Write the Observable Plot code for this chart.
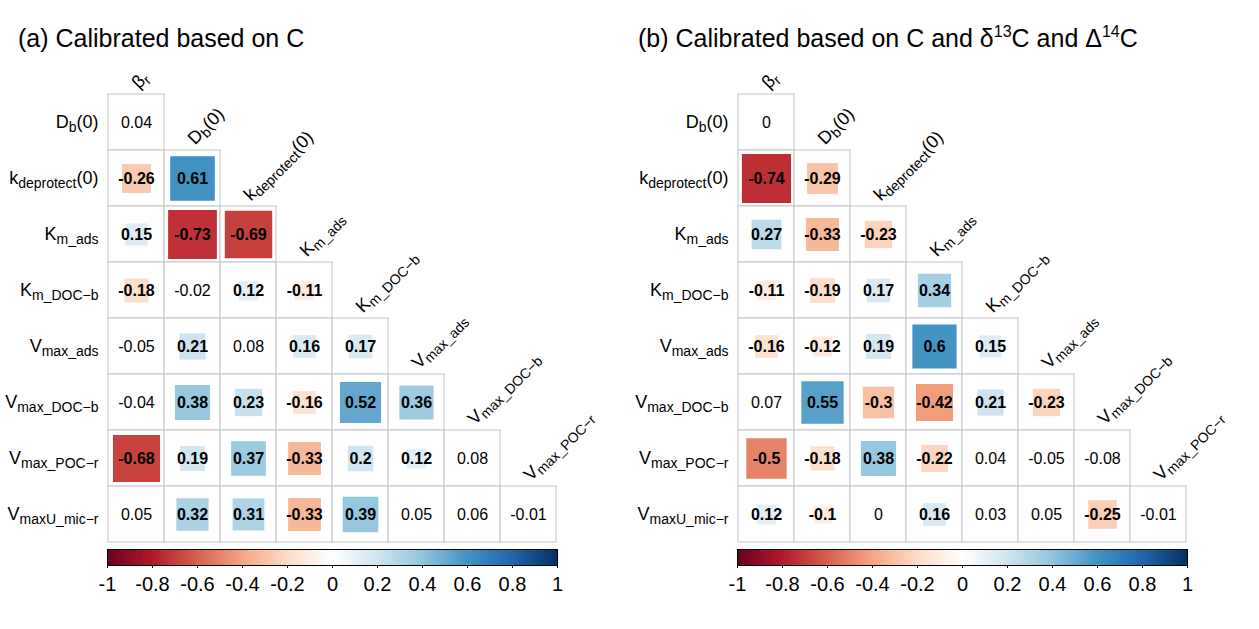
<!DOCTYPE html>
<html><head><meta charset="utf-8">
<script src="https://cdn.jsdelivr.net/npm/d3@7"></script>
<script src="https://cdn.jsdelivr.net/npm/@observablehq/plot@0.6"></script>
<style>
body{margin:0;background:#fff;}
#root{position:relative;width:1259px;height:629px;overflow:hidden;font-family:"Liberation Sans",Arial,sans-serif;}
.title{position:absolute;top:26px;font-size:25px;line-height:24px;white-space:nowrap;color:#000;}
.title sup{font-size:16px;line-height:0;vertical-align:baseline;position:relative;top:-10px;}
.panel{position:absolute;}
</style></head><body><div id="root"></div>
<script>
// Variable labels ({...} marks a subscript)
const rowLabels = ["D{b}(0)", "k{deprotect}(0)", "K{m_ads}", "K{m_DOC−b}", "V{max_ads}", "V{max_DOC−b}", "V{max_POC−r}", "V{maxU_mic−r}"];
const colLabels = ["β{r}", "D{b}(0)", "k{deprotect}(0)", "K{m_ads}", "K{m_DOC−b}", "V{max_ads}", "V{max_DOC−b}", "V{max_POC−r}"];

// Panel (a): Calibrated based on C (lower triangle, row by row)
const valuesA = [
  [0.04],
  [-0.26, 0.61],
  [0.15, -0.73, -0.69],
  [-0.18, -0.02, 0.12, -0.11],
  [-0.05, 0.21, 0.08, 0.16, 0.17],
  [-0.04, 0.38, 0.23, -0.16, 0.52, 0.36],
  [-0.68, 0.19, 0.37, -0.33, 0.2, 0.12, 0.08],
  [0.05, 0.32, 0.31, -0.33, 0.39, 0.05, 0.06, -0.01]
];
// Panel (b): Calibrated based on C, d13C and D14C
const valuesB = [
  [0],
  [-0.74, -0.29],
  [0.27, -0.33, -0.23],
  [-0.11, -0.19, 0.17, 0.34],
  [-0.16, -0.12, 0.19, 0.6, 0.15],
  [0.07, 0.55, -0.3, -0.42, 0.21, -0.23],
  [-0.5, -0.18, 0.38, -0.22, 0.04, -0.05, -0.08],
  [0.12, -0.1, 0, 0.16, 0.03, 0.05, -0.25, -0.01]
];
const titleA = "(a) Calibrated based on C";
const titleB = "(b) Calibrated based on C and δ<sup>13</sup>C and Δ<sup>14</sup>C";

const colorStops = [-1, -0.8, -0.6, -0.4, -0.2, 0, 0.2, 0.4, 0.6, 0.8, 1];
const colorRange = ["#67001F", "#B2182B", "#D6604D", "#F4A582", "#FDDBC7", "#FFFFFF", "#D1E5F0", "#92C5DE", "#4393C3", "#2166AC", "#053061"];
const legendTicks = [-1, -0.8, -0.6, -0.4, -0.2, 0, 0.2, 0.4, 0.6, 0.8, 1];
const threshold = 0.1;

const FONT = '"Liberation Sans", Arial, sans-serif';

function richify(svg) {
  d3.select(svg).selectAll("text").each(function () {
    const t = this.textContent;
    if (!t.includes("{")) return;
    const parts = t.split(/(\{[^}]*\})/).filter(s => s.length);
    this.textContent = "";
    let shifted = false;
    for (const p of parts) {
      const ts = d3.select(this).append("tspan");
      if (p.startsWith("{")) {
        ts.text(p.slice(1, -1)).attr("font-size", 14).attr("dy", 3.5);
        shifted = true;
      } else {
        ts.text(p);
        if (shifted) { ts.attr("dy", -3.5); shifted = false; }
      }
    }
  });
}

function makePanel(values, left, titleLeft, titleHtml) {
  const root = document.getElementById("root");
  const cells = [];
  rowLabels.forEach((r, i) => values[i].forEach((v, j) => cells.push({row: r, col: colLabels[j], v})));
  const strong = cells.filter(d => Math.abs(d.v) >= threshold);
  const weak = cells.filter(d => Math.abs(d.v) < threshold);

  const title = document.createElement("div");
  title.className = "title";
  title.style.left = titleLeft + "px";
  title.innerHTML = titleHtml;
  root.appendChild(title);

  const matrix = Plot.plot({
    width: 629, height: 548,
    marginLeft: 107, marginRight: 72, marginTop: 94, marginBottom: 6,
    x: {type: "band", domain: colLabels, padding: 0, axis: null},
    y: {type: "band", domain: rowLabels, padding: 0, axis: null},
    color: {type: "linear", domain: colorStops, range: colorRange},
    r: {type: "sqrt", domain: [0, 1], range: [0, 32.2]},
    style: {fontFamily: FONT, background: "transparent", overflow: "visible"},
    marks: [
      Plot.cell(cells, {x: "col", y: "row", fill: "white", stroke: "#c4c4c4", strokeWidth: 1, inset: 0}),
      Plot.dot(strong, {x: "col", y: "row", r: d => Math.abs(d.v), fill: "v", symbol: "square"}),
      Plot.text(strong, {x: "col", y: "row", text: d => String(d.v), fontWeight: "bold", fontSize: 16, fill: "black"}),
      Plot.text(weak, {x: "col", y: "row", text: d => String(d.v), fontSize: 16, fill: "black"}),
      Plot.text(rowLabels, {y: d => d, frameAnchor: "left", textAnchor: "end", dx: -9, fontSize: 18, fill: "black"}),
      Plot.text(colLabels, {x: d => d, y: (d, i) => rowLabels[i], dx: 2.5, dy: -33, rotate: -45, textAnchor: "start", lineAnchor: "bottom", fontSize: 18, fill: "black"})
    ]
  });
  richify(matrix);
  const wrap = document.createElement("div");
  wrap.className = "panel";
  wrap.style.left = left + "px";
  wrap.style.top = "0px";
  wrap.appendChild(matrix);
  root.appendChild(wrap);

  const bar = Plot.plot({
    width: 629, height: 89,
    marginLeft: 107, marginRight: 72, marginTop: 9, marginBottom: 64,
    x: {domain: [-1, 1], label: null},
    y: {domain: [0, 1], axis: null},
    color: {type: "linear", domain: colorStops, range: colorRange},
    style: {fontFamily: FONT, fontSize: "20px", background: "transparent", overflow: "visible"},
    marks: [
      Plot.rect(d3.range(200), {
        x1: i => -1 + i / 100,
        x2: i => Math.min(1, -1 + (i + 1) / 100 + 0.003),
        y1: 0, y2: 1,
        fill: i => -1 + (i + 0.5) / 100
      }),
      Plot.frame({stroke: "#000", strokeWidth: 1}),
      Plot.axisX({ticks: legendTicks, tickFormat: d => String(d), tickSize: 3, tickPadding: 8, fontSize: 20, label: null})
    ]
  });
  const wrap2 = document.createElement("div");
  wrap2.className = "panel";
  wrap2.style.left = left + "px";
  wrap2.style.top = "540px";
  wrap2.appendChild(bar);
  root.appendChild(wrap2);
}

makePanel(valuesA, 0, 18, titleA);
makePanel(valuesB, 630, 638, titleB);
</script>
</body></html>
